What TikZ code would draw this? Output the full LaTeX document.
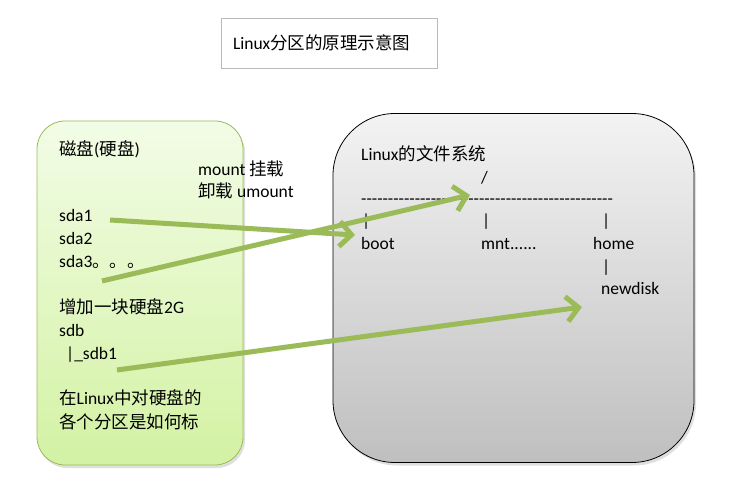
\documentclass[tikz,border=0pt]{standalone}
\usepackage{fontspec}
\setmainfont{Carlito}[Ligatures=TeXOff]
\newfontfamily\cjk{Noto Sans CJK SC}
\newcommand{\zh}[1]{{\cjk #1}}
\usetikzlibrary{arrows.meta,shadows,positioning}

\definecolor{grn}{HTML}{9BBB59}
\definecolor{grntop}{HTML}{F2FCE6}
\definecolor{grnbot}{HTML}{D3F2A3}
\definecolor{gratop}{HTML}{F3F3F3}
\definecolor{grabot}{HTML}{BFBFBF}

\begin{document}
\begin{tikzpicture}[x=1pt,y=-1pt,
    txt/.style={anchor=base west,inner sep=0pt,font=\fontsize{17.5}{21}\selectfont},
    arr/.style={draw=grn,line width=5pt,-{Straight Barb[length=12pt,width=25pt]}},
    diskbox/.style={draw=grn,thick,rounded corners=28pt,top color=grntop,bottom color=grnbot,
        minimum width=206pt,minimum height=344pt,drop shadow={shadow xshift=2pt,shadow yshift=-3pt,opacity=0.25}},
    fsbox/.style={draw=black,thick,rounded corners=62pt,top color=gratop,bottom color=grabot,
        minimum width=361pt,minimum height=349pt,drop shadow={shadow xshift=2pt,shadow yshift=-3pt,opacity=0.25}}]
\useasboundingbox (0,0) rectangle (753,478);

% title
\node[draw=gray!55,minimum width=216pt,minimum height=50pt,text width=192pt,inner xsep=12pt,align=left,
      font=\fontsize{17.5}{21}\selectfont] (title) at (329,43) {Linux\zh{分区的原理示意图}};

% the two boxes
\node[diskbox] (disk) at (140,293) {};
\node[fsbox] (fs) at (513.5,288) {};

% disk side
\node[txt] (l0) at (59,156) {\zh{磁盘}(\zh{硬盘})};
\node[txt] (sda1) at (59,222) {sda1};
\node[txt] (sda2) at (59,245) {sda2};
\node[txt] (sda3) at (59,268) {sda3\zh{。。。}};
\node[txt] (l4) at (59,314) {\zh{增加一块硬盘}2G};
\node[txt] (sdb) at (59,337) {sdb};
\node[txt] (sdb1) at (66,360) {|\_sdb1};
\node[txt] (l7) at (59,405) {\zh{在}Linux\zh{中对硬盘的}};
\node[txt] (l8) at (59,429) {\zh{各个分区是如何标}};

\node[txt] (mount) at (198,176) {mount \zh{挂载}};
\node[txt] (umount) at (198,198) {\zh{卸载} umount};

% file system side
\node[txt] (r0) at (361,161) {Linux\zh{的文件系统}};
\node[txt] (root) at (481,184) {/};
\node[txt] (line) at (361,205) {\foreach \i in {1,...,47}{-}};
\node[txt] (v1) at (362,227) {|};
\node[txt] (v2) at (482,227) {|};
\node[txt] (v3) at (602,227) {|};
\node[txt] (boot) at (361,250) {boot};
\node[txt] (mnt) at (481,250) {mnt......};
\node[txt] (home) at (593,250) {home};
\node[txt] (v4) at (602,273) {|};
\node[txt] (newdisk) at (601,295) {newdisk};

% mount arrows
\coordinate (s1) at (110,220);
\coordinate (s2) at (102,281);
\coordinate (s3) at (117,370);
\coordinate (e1) at (355,235);
\coordinate (e2) at (470,195);
\coordinate (e3) at (582,307);
\draw[arr] (s1) -- (e1);
\draw[arr] (s2) -- (e2);
\draw[arr] (s3) -- (e3);
\end{tikzpicture}
\end{document}
